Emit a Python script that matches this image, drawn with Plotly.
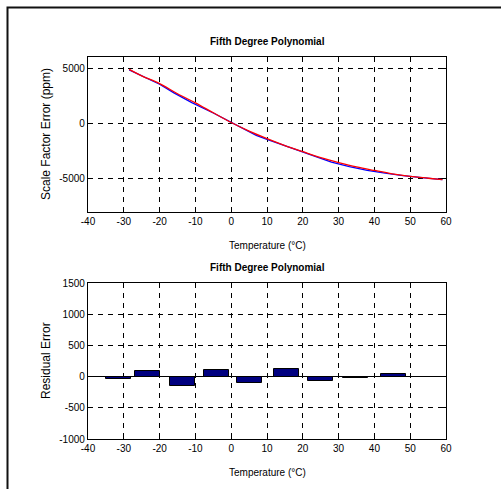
import plotly.graph_objects as go

# ---- data ----
meas_t = [-28.5, -24, -20, -16, -11, -5, 0, 4, 7, 10, 15, 20, 28, 33, 38, 43, 48, 54, 59]
meas_err = [4830, 4170, 3540, 2760, 1880, 940, 100, -600, -1080, -1450, -2020, -2560, -3500, -3900, -4250, -4480, -4720, -4920, -5080]
fit_t = [-28.5, -25, -20, -15, -10, -5, 0, 5, 10, 15, 20, 25, 30, 35, 40, 45, 50, 55, 59]
fit_err = [4880, 4300, 3600, 2680, 1860, 960, 80, -700, -1380, -2000, -2550, -3080, -3530, -3930, -4250, -4550, -4780, -4950, -5080]
res_t = [-31.5, -23.3, -13.6, -4.0, 5.2, 15.5, 25.0, 34.8, 45.3, 56.6]
res_err = [-35, 95, -145, 112, -100, 128, -65, -28, 44, -10]
x_ticks = [-40, -30, -20, -10, 0, 10, 20, 30, 40, 50, 60]
x_labels = ["-40", "-30", "-20", "-10", "0", "10", "20", "30", "40", "50", "60"]
top_y_ticks = [-5000, 0, 5000]
top_y_labels = ["-5000", "0", "5000"]
bot_y_ticks = [-1000, -500, 0, 500, 1000, 1500]
bot_y_labels = ["-1000", "-500", "0", "500", "1000", "1500"]
title_text = "Fifth Degree Polynomial"

W, H = 501, 489
FONT = "Liberation Sans, Arial, sans-serif"

def fx(px):
    return px / W

def fy(py):
    return 1 - py / H

fig = go.Figure()
fig.add_trace(go.Scatter(x=meas_t, y=meas_err, mode="lines", line=dict(color="#0000ff", width=1.3),
                         xaxis="x", yaxis="y", showlegend=False))
fig.add_trace(go.Scatter(x=fit_t, y=fit_err, mode="lines", line=dict(color="#ff0000", width=1.3, shape="spline"),
                         xaxis="x", yaxis="y", showlegend=False))
fig.add_trace(go.Bar(x=res_t, y=res_err, width=7, marker=dict(color="#000080", line=dict(color="black", width=1)),
                     xaxis="x2", yaxis="y2", showlegend=False))

common_ax = dict(showline=True, mirror="allticks", linecolor="black", linewidth=1.3,
                 ticks="inside", ticklen=4, tickcolor="black", tickwidth=1, automargin=False,
                 showgrid=True, gridcolor="black", gridwidth=1, griddash="5px,5px",
                 tickfont=dict(family=FONT, size=10, color="black"))

dom_x = [fx(88), fx(446)]
fig.update_layout(
    width=W, height=H,
    margin=dict(l=0, r=0, t=0, b=0, autoexpand=False),
    paper_bgcolor="white", plot_bgcolor="white",
    font=dict(family=FONT, size=10, color="black"),
    bargap=0,
    xaxis=dict(domain=dom_x, anchor="y", range=[-40, 60], tickvals=x_ticks, ticktext=x_labels,
               zeroline=False, **common_ax),
    yaxis=dict(domain=[fy(212), fy(57)], anchor="x", range=[-8000, 6000], tickvals=top_y_ticks,
               ticktext=top_y_labels, zeroline=False, **common_ax),
    xaxis2=dict(domain=dom_x, anchor="y2", range=[-40, 60], tickvals=x_ticks, ticktext=x_labels,
                zeroline=False, **common_ax),
    yaxis2=dict(domain=[fy(439), fy(283)], anchor="x2", range=[-1000, 1500], tickvals=bot_y_ticks,
                ticktext=bot_y_labels, zeroline=True, zerolinecolor="black", zerolinewidth=1.3, **common_ax),
)

ann = []
ann.append(dict(text="<b>" + title_text + "</b>", x=fx(267), y=fy(42), xref="paper", yref="paper",
                xanchor="center", yanchor="middle", showarrow=False, font=dict(family=FONT, size=10)))
ann.append(dict(text="<b>" + title_text + "</b>", x=fx(267), y=fy(267), xref="paper", yref="paper",
                xanchor="center", yanchor="middle", showarrow=False, font=dict(family=FONT, size=10)))
ann.append(dict(text="Temperature (°C)", x=fx(267), y=fy(245), xref="paper", yref="paper",
                xanchor="center", yanchor="middle", showarrow=False, font=dict(family=FONT, size=10)))
ann.append(dict(text="Temperature (°C)", x=fx(267), y=fy(472), xref="paper", yref="paper",
                xanchor="center", yanchor="middle", showarrow=False, font=dict(family=FONT, size=10)))
ann.append(dict(text="Scale Factor Error (ppm)", x=fx(46), y=fy(134), xref="paper", yref="paper",
                xanchor="center", yanchor="middle", showarrow=False, textangle=-90,
                font=dict(family=FONT, size=12)))
ann.append(dict(text="Residual Error", x=fx(46), y=fy(361), xref="paper", yref="paper",
                xanchor="center", yanchor="middle", showarrow=False, textangle=-90,
                font=dict(family=FONT, size=12)))
fig.update_layout(annotations=ann)

fig.add_shape(type="rect", xref="paper", yref="paper", x0=fx(7.5), x1=1.2, y0=-0.2, y1=fy(7.5),
              line=dict(color="#111111", width=2), fillcolor="rgba(0,0,0,0)", layer="above")

fig.write_html("out.html")
